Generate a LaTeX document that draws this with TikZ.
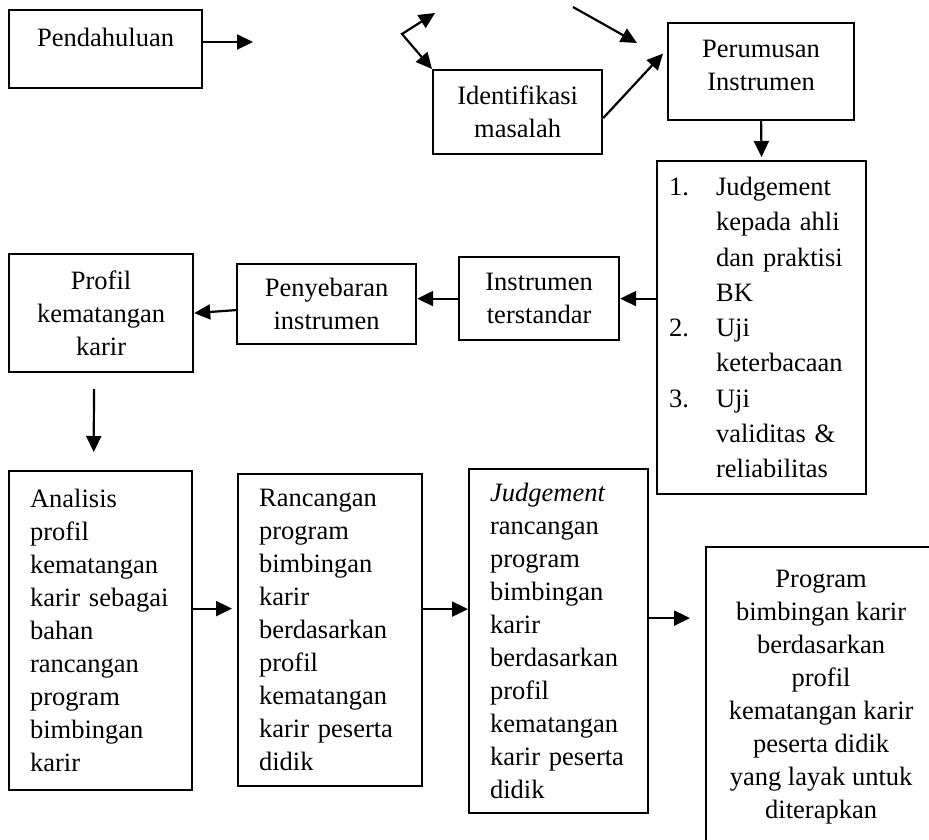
\documentclass[tikz,border=0pt]{standalone}
\usepackage{fontspec}
\setmainfont{Liberation Serif}
\usetikzlibrary{arrows.meta}
\begin{document}
\begin{tikzpicture}[x=1pt,y=-1pt,
	kotak/.style={draw,line width=2.2pt,inner sep=6pt,anchor=north west,font=\fontsize{26.5}{33}\selectfont},
	panah/.style={line width=2.2pt,-{Triangle[length=16pt,width=15pt]}}]
							\useasboundingbox (0,0) rectangle (929,839);
							\clip (0,0) rectangle (929,839);
							\node[kotak,minimum width=193pt,text height=30pt,text depth=36pt] (pend) at (8,9) {Pendahuluan};
							\node[kotak,minimum width=169pt,minimum height=84pt,align=center] (idn) at (432,69) {Identifikasi\\masalah};
							\node[kotak,minimum width=186pt,text height=61pt,text depth=24pt,align=center] (perum) at (667,22) {Perumusan\\Instrumen};
							\node[kotak,minimum width=209pt,minimum height=333pt,text width=185pt,align=left,font=\fontsize{26.5}{35.25}\selectfont] (uji) at (656,160) {\makebox[47pt][l]{1.}Judgement\\
								\hspace*{47pt}\makebox[127pt][s]{kepada ahli}\\
								\hspace*{47pt}\makebox[127pt][s]{dan praktisi}\\
								\hspace*{47pt}BK\\
								\makebox[47pt][l]{2.}Uji\\
								\hspace*{47pt}keterbacaan\\
								\makebox[47pt][l]{3.}Uji\\
								\hspace*{47pt}\makebox[127pt][s]{validitas \&}\\
								\hspace*{47pt}reliabilitas};
							\node[kotak,minimum width=160pt,minimum height=83pt,align=center] (inst) at (458,256) {Instrumen\\terstandar};
							\node[kotak,minimum width=179pt,minimum height=80pt,align=center] (peny) at (236,263) {Penyebaran\\instrumen};
							\node[kotak,minimum width=184pt,minimum height=118pt,align=center] (prof) at (8,253) {Profil\\kematangan\\karir};
							\node[kotak,minimum width=183pt,minimum height=319pt,text width=141pt,align=left] (anal) at (8,470) {Analisis\\profil\\kematangan\\karir sebagai\\bahan\\rancangan\\program\\bimbingan\\karir};
							\node[kotak,minimum width=184pt,minimum height=312pt,text width=142pt,align=left] (ranc) at (237,473) {Rancangan\\program\\bimbingan\\karir\\berdasarkan\\profil\\kematangan\\karir peserta\\didik};
							\node[kotak,minimum width=179pt,minimum height=344pt,text width=137pt,align=left] (judgb) at (468,468) {\textit{Judgement}\\rancangan\\program\\bimbingan\\karir\\berdasarkan\\profil\\kematangan\\karir peserta\\didik};
							\node[kotak,minimum width=230pt,minimum height=300pt,align=center] (prog) at (705,546) {Program\\bimbingan karir\\berdasarkan\\profil\\kematangan karir\\peserta didik\\yang layak untuk\\diterapkan};
							\coordinate (gap) at (253,42);
							\coordinate (cabang) at (402,34);
							\coordinate (cabangatas) at (435,13);
							\coordinate (kiriatas) at (573,7);
							\coordinate (kananatas) at (637,43);
							\draw[panah] (pend.east |- gap) -- (gap);
							\draw[line width=2.2pt,{Triangle[length=16pt,width=15pt]}-{Triangle[length=16pt,width=15pt]}] (cabangatas) -- (cabang) -- (idn.north west);
							\draw[panah] (kiriatas) -- (kananatas);
							\draw[panah] ([yshift=-6pt]idn.east) -- ([xshift=-4pt,yshift=18pt]perum.west);
							\draw[panah,shorten >=3pt] (perum.south) -- (uji.north);
							\draw[panah] (uji.west |- inst.east) -- (inst.east);
							\draw[panah] (inst.west) -- (peny.east |- inst.west);
							\draw[panah] ([yshift=-6pt]peny.west) -- (prof.east);
							\draw[panah,shorten <=16pt,shorten >=18pt] ([xshift=-7pt]prof.south) -- ([xshift=-7pt]anal.north);
							\draw[panah,shorten >=5pt] ([yshift=22pt]anal.east) -- ([yshift=22pt]anal.east -| ranc.west);
							\draw[panah] ([yshift=21pt]ranc.east) -- ([yshift=21pt]ranc.east -| judgb.west);
							\draw[panah,shorten >=15pt] ([yshift=23pt]judgb.east) -- ([yshift=23pt]judgb.east -| prog.west);
						\end{tikzpicture}
\end{document}
